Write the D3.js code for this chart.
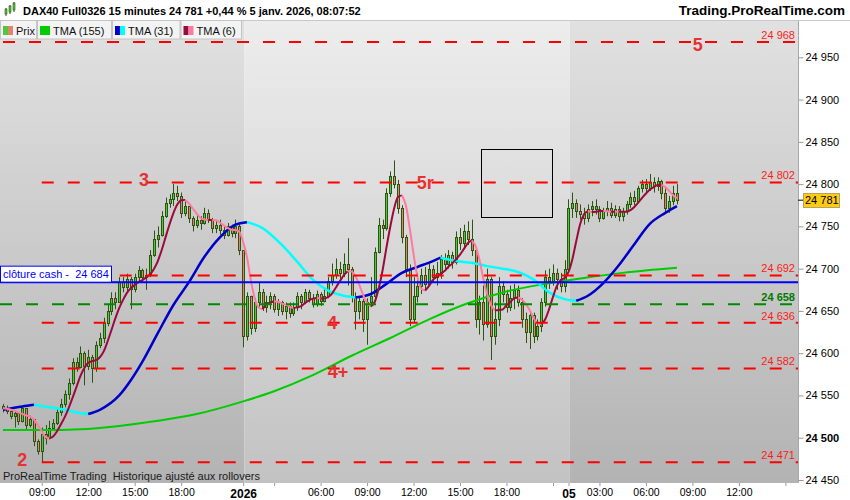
<!DOCTYPE html>
<html>
<head>
<meta charset="utf-8">
<script src="https://cdn.jsdelivr.net/npm/d3@7"></script>
<style>
  body { margin: 0; background: #fff; }
  svg { display: block; font-family: "Liberation Sans", Arial, sans-serif; }
</style>
</head>
<body>
<svg width="850" height="500"></svg>
<script>
// ---- data (15 min bars) ----
const firstOpen = 24538
// 30 dec, 06:30 -> 21:45
const dec30Close = [24535,24532,24526,24529,24520,24535,24515,24522,24496,24484,
  24505,24500,24512,24518,24530,24540,24552,24565,24590,24584,
  24600,24585,24596,24582,24610,24618,24636,24650,24665,24660,
  24684,24678,24688,24676,24690,24698,24690,24692,24716,24735,
  24740,24762,24778,24782,24790,24786,24766,24774,24760,24752,
  24758,24754,24766,24758,24748,24752,24746,24740,24750,24742,
  24750,24722]
const dec30High = [24540,24538,24536,24532,24528,24537,24532,24526,24520,24498,
  24512,24515,24520,24522,24535,24546,24556,24570,24594,24595,
  24608,24602,24604,24598,24614,24624,24642,24658,24672,24672,
  24690,24690,24694,24690,24694,24703,24700,24700,24722,24745,
  24750,24768,24784,24788,24800,24798,24790,24780,24774,24762,
  24764,24762,24772,24770,24760,24756,24758,24750,24754,24752,
  24758,24752]
const dec30Low = [24530,24528,24522,24512,24515,24518,24508,24512,24490,24480,
  24471,24492,24498,24508,24515,24526,24536,24545,24562,24578,
  24582,24562,24580,24565,24578,24606,24612,24632,24645,24652,
  24660,24672,24672,24652,24672,24684,24684,24675,24690,24714,
  24725,24738,24760,24772,24774,24780,24760,24762,24754,24744,
  24748,24746,24752,24754,24742,24742,24740,24735,24738,24737,
  24736,24716]
// 2 janv, 01:00 -> 21:45
const jan2Close = [24620,24668,24630,24660,24672,24655,24660,24668,24652,24660,
  24650,24656,24648,24655,24668,24660,24672,24665,24658,24670,
  24662,24668,24685,24692,24700,24695,24705,24700,24668,24650,
  24662,24640,24660,24668,24720,24752,24748,24790,24810,24800,
  24772,24738,24700,24640,24668,24680,24692,24682,24700,24690,
  24695,24712,24705,24716,24708,24738,24730,24745,24735,24722,
  24640,24660,24635,24688,24620,24640,24680,24670,24655,24665,
  24675,24660,24640,24625,24645,24620,24632,24660,24690,24685,
  24695,24688,24680,24700]
const jan2High = [24712,24672,24668,24665,24684,24676,24668,24672,24670,24664,
  24662,24660,24660,24660,24672,24670,24676,24675,24670,24674,
  24672,24678,24690,24706,24712,24708,24718,24736,24702,24672,
  24666,24664,24665,24690,24725,24760,24758,24795,24815,24828,
  24805,24775,24740,24705,24690,24695,24700,24702,24706,24704,
  24708,24716,24718,24722,24720,24744,24748,24752,24756,24758,
  24725,24668,24680,24700,24690,24660,24690,24685,24675,24680,
  24682,24680,24665,24648,24650,24648,24640,24665,24698,24700,
  24705,24700,24695,24710]
const jan2Low = [24607,24615,24622,24625,24655,24650,24648,24652,24648,24644,
  24645,24640,24642,24644,24650,24652,24658,24660,24654,24655,
  24656,24660,24665,24680,24688,24688,24690,24680,24660,24628,
  24640,24625,24610,24655,24665,24718,24735,24745,24785,24795,
  24765,24730,24690,24632,24636,24660,24670,24675,24680,24684,
  24680,24688,24698,24700,24700,24705,24722,24725,24728,24715,
  24630,24622,24615,24630,24592,24610,24632,24660,24648,24650,
  24652,24655,24630,24612,24605,24612,24615,24625,24655,24676,
  24680,24675,24672,24672]
// 5 janv, 01:00 -> 08:00
const jan5Close = [24772,24778,24768,24765,24760,24770,24774,24770,24760,24768,
  24772,24764,24770,24762,24768,24776,24785,24780,24795,24800,
  24795,24802,24798,24804,24790,24772,24780,24790,24781]
const jan5High = [24782,24790,24782,24776,24772,24776,24780,24782,24774,24772,
  24780,24778,24775,24774,24772,24780,24790,24792,24798,24805,
  24806,24812,24808,24808,24805,24795,24786,24798,24800]
const jan5Low = [24725,24760,24760,24758,24752,24755,24762,24764,24755,24758,
  24762,24760,24760,24756,24756,24764,24772,24775,24778,24790,
  24788,24792,24790,24792,24782,24765,24766,24775,24776]

// TMA (31) and TMA (155) read at sample bars
const tma31Idx = [0,5,8,12,16,20,22,25,30,33,36,40,44,48,52,56,60,63,67,72,76,80,84,88,91,95,99,103,107,111,113,117,121,125,129,133,137,141,145,148,151,155,159,163,167,171,174]
const tma31Val = [24533,24537,24539,24536,24533,24529,24528,24533,24550,24568,24590,24624,24657,24684,24714,24737,24752,24755,24748,24728,24708,24687,24674,24668,24666,24670,24682,24695,24702,24709,24713,24709,24707,24703,24700,24696,24687,24672,24664,24662,24668,24683,24704,24729,24753,24766,24774]
const tma155Idx = [0,10,20,30,40,50,62,70,80,90,100,110,120,130,140,150,160,174]
const tma155Val = [24509,24509,24510,24514,24520,24528,24543,24555,24574,24597,24618,24640,24659,24673,24682,24689,24695,24701]

const redLevels = [24968, 24802, 24692, 24636, 24582, 24471]
const redLevelStart = [0, 10, 10, 10, 10, 10]
const greenLevel = 24658
const cashLevel = 24684
const lastPrice = 24781

const waveText = ["5", "3", "5r", "4", "4+", "2"]
const waveIdx = [179.4, 36.4, 109, 85, 86.5, 5]
const waveVal = [24958, 24798, 24794, 24629, 24571, 24467]

const boxIdx = [123.3, 141.6]
const boxVal = [24842, 24762]

const sessionStart = [0, 62, 146]
const yTicks = [24450, 24500, 24550, 24600, 24650, 24700, 24750, 24800, 24850, 24900, 24950]
const xTickIdx = [10, 22, 34, 46, 62, 70, 82, 94, 106, 118, 130, 142, 146, 154, 166, 178, 190, 202]
const xTickLabels = ["09:00","12:00","15:00","18:00","2026","","06:00","09:00","12:00","15:00","18:00","","05","03:00","06:00","09:00","12:00",""]

const legendNames = ["Prix", "TMA (155)", "TMA (31)", "TMA (6)"]
const legendColors = [["#4fc93c","#e8806e"], ["#00cc00","#00cc00"], ["#0000c8","#00ffff"], ["#9b0a3c","#ff7aa0"]]

// ---- chart ----
const svg = d3.select("svg")
const plotR = 798, plotT = 20, plotB = 483

const x = d3.scaleLinear().domain([0, 205]).range([3, 797])
const y = d3.scaleLinear().domain([24450, 24950]).range([480, 57.3])
const fmt = d3.formatLocale({decimal: ",", thousands: " ", grouping: [3], currency: ["", ""]}).format(",d")

const closes = dec30Close.concat(jan2Close, jan5Close)
const highs = dec30High.concat(jan2High, jan5High)
const lows = dec30Low.concat(jan2Low, jan5Low)
const bars = closes.map((c, i) => {
  const o = i === 0 ? firstOpen : closes[i - 1]
  return {i, o, c, h: Math.max(highs[i], o, c), l: Math.min(lows[i], o, c)}
})

// background bands
const defs = svg.append("defs")
function grad(id, top, bottom) {
  const g = defs.append("linearGradient").attr("id", id)
    .attr("gradientUnits", "userSpaceOnUse").attr("x1", 0).attr("x2", 0).attr("y1", plotT).attr("y2", plotB)
  g.append("stop").attr("offset", "0%").attr("stop-color", top)
  g.append("stop").attr("offset", "100%").attr("stop-color", bottom)
}
grad("bgDark", "#e1e1e1", "#b3b3b3")
grad("bgLight", "#ededed", "#c2c2c2")

const edges = [0, x(sessionStart[1]) + 1.4, x(sessionStart[2]) + 1.4, plotR]
for (let s = 0; s < 3; s++) {
  svg.append("rect").attr("x", edges[s]).attr("y", plotT).attr("width", edges[s + 1] - edges[s])
    .attr("height", plotB - plotT).attr("fill", s === 1 ? "url(#bgLight)" : "url(#bgDark)")
}

// candles
const up = "#4fc93c", down = "#e8806e", edge = "#2d5512"
const cg = svg.append("g")
cg.selectAll("line").data(bars).join("line")
  .attr("x1", d => Math.round(x(d.i)) + 0.5).attr("x2", d => Math.round(x(d.i)) + 0.5)
  .attr("y1", d => y(d.h)).attr("y2", d => y(d.l))
  .attr("stroke", edge).attr("stroke-width", 1)
cg.selectAll("rect").data(bars).join("rect")
  .attr("x", d => Math.round(x(d.i)) - 0.5)
  .attr("y", d => Math.round(y(Math.max(d.o, d.c))) + 0.5)
  .attr("width", 2)
  .attr("height", d => Math.max(1, Math.round(y(Math.min(d.o, d.c))) - Math.round(y(Math.max(d.o, d.c)))))
  .attr("fill", d => d.c >= d.o ? up : down)
  .attr("stroke", edge).attr("stroke-width", 1)

// moving averages
function sma(a, n) {
  return a.map((v, i) => d3.mean(a.slice(Math.max(0, i - n + 1), i + 1)))
}
function tma(a, n) { return sma(sma(a, Math.ceil(n / 2)), Math.floor(n / 2) + 1) }

function runs(pts) {
  const out = []
  let cur = [pts[0]], dir = 0
  for (let j = 1; j < pts.length; j++) {
    const d = pts[j].v >= pts[j - 1].v ? 1 : -1
    if (dir === 0 || d === dir) { cur.push(pts[j]); dir = d }
    else { out.push({dir, pts: cur}); cur = [pts[j - 1], pts[j]]; dir = d }
  }
  out.push({dir, pts: cur})
  return out
}
const lineGen = d3.line().x(d => x(d.i)).y(d => y(d.v)).curve(d3.curveMonotoneX)
function drawMA(pts, upColor, downColor, w) {
  const g = svg.append("g")
  runs(pts).forEach(r => {
    g.append("path").attr("d", lineGen(r.pts)).attr("fill", "none")
      .attr("stroke", r.dir > 0 ? upColor : downColor).attr("stroke-width", w)
  })
}
drawMA(tma155Idx.map((i, j) => ({i, v: tma155Val[j]})), "#00cc00", "#00cc00", 2)
drawMA(tma31Idx.map((i, j) => ({i, v: tma31Val[j]})), "#0000c8", "#00ffff", 2.5)
const tma6 = tma(closes, 6)
drawMA(tma6.map((v, i) => ({i, v})), "#9b0a3c", "#ff7aa0", 2)

// horizontal levels
const lv = svg.append("g")
redLevels.forEach((v, j) => {
  lv.append("line").attr("x1", x(redLevelStart[j])).attr("x2", plotR).attr("y1", y(v)).attr("y2", y(v))
    .attr("stroke", "#ff0000").attr("stroke-width", 2).attr("stroke-dasharray", "12,14")
  lv.append("text").attr("x", 795).attr("y", y(v) - 3).attr("text-anchor", "end")
    .attr("font-size", 11).attr("fill", "#ff1a1a").text(fmt(v))
})
lv.append("line").attr("x1", 0).attr("x2", plotR).attr("y1", y(greenLevel)).attr("y2", y(greenLevel))
  .attr("stroke", "#008a00").attr("stroke-width", 2).attr("stroke-dasharray", "12,14")
lv.append("text").attr("x", 795).attr("y", y(greenLevel) - 3).attr("text-anchor", "end")
  .attr("font-size", 11).attr("font-weight", "bold").attr("fill", "#007a00").text(fmt(greenLevel))
lv.append("line").attr("x1", 0).attr("x2", plotR).attr("y1", y(cashLevel)).attr("y2", y(cashLevel))
  .attr("stroke", "#0000ff").attr("stroke-width", 2)
lv.append("rect").attr("x", 0.5).attr("y", y(cashLevel) - 16).attr("width", 111).attr("height", 16)
  .attr("fill", "#fff").attr("stroke", "#0000ff").attr("stroke-width", 1)
lv.append("text").attr("x", 3).attr("y", y(cashLevel) - 4).attr("font-size", 11).attr("fill", "#0000ff")
  .attr("xml:space", "preserve").text("clôture cash -  " + fmt(cashLevel))

// box and wave labels
svg.append("rect").attr("x", Math.round(x(boxIdx[0])) + 0.5).attr("y", Math.round(y(boxVal[0])) + 0.5)
  .attr("width", Math.round(x(boxIdx[1]) - x(boxIdx[0]))).attr("height", Math.round(y(boxVal[1]) - y(boxVal[0])))
  .attr("fill", "none").attr("stroke", "#000").attr("stroke-width", 1)
svg.append("g").selectAll("text").data(waveText).join("text")
  .attr("x", (d, j) => x(waveIdx[j])).attr("y", (d, j) => y(waveVal[j]))
  .attr("text-anchor", "middle").attr("font-size", 18).attr("font-weight", "bold")
  .attr("fill", "#e63232").text(d => d)

svg.append("text").attr("x", 3).attr("y", 480).attr("font-size", 11).attr("fill", "#1a1a1a")
  .attr("xml:space", "preserve").text("ProRealTime Trading  Historique ajusté aux rollovers")

// axes areas
svg.append("rect").attr("x", plotR).attr("y", plotT).attr("width", 850 - plotR).attr("height", 480).attr("fill", "#fff")
svg.append("rect").attr("x", 0).attr("y", plotB).attr("width", 850).attr("height", 500 - plotB).attr("fill", "#fff")
svg.append("line").attr("x1", plotR + 0.5).attr("x2", plotR + 0.5).attr("y1", plotT).attr("y2", plotB)
  .attr("stroke", "#a8a8a8")

const yAxis = svg.append("g").attr("transform", `translate(${plotR + 0.5},0)`)
  .call(d3.axisRight(y).tickValues(yTicks).tickSize(5).tickPadding(2).tickFormat(fmt))
yAxis.select(".domain").remove()
yAxis.selectAll("line").attr("stroke", "#999")
yAxis.selectAll("text").attr("font-size", 11).attr("font-family", "Liberation Sans, Arial, sans-serif")
  .attr("fill", "#000").attr("font-weight", d => d === 24500 ? "bold" : "normal")

const xAxis = svg.append("g").attr("transform", `translate(0,${plotB})`)
  .call(d3.axisBottom(x).tickValues(xTickIdx).tickSize(3).tickPadding(3).tickFormat((d, j) => xTickLabels[j]))
xAxis.select(".domain").remove()
xAxis.selectAll("line").attr("stroke", "#999")
xAxis.selectAll("text").attr("font-family", "Liberation Sans, Arial, sans-serif").attr("fill", "#000")
  .attr("font-weight", (d, j) => (xTickLabels[j] === "2026" || xTickLabels[j] === "05") ? "bold" : "normal")
  .attr("font-size", (d, j) => (xTickLabels[j] === "2026" || xTickLabels[j] === "05") ? 12 : 10.5)

// last price tag
svg.append("line").attr("x1", plotR).attr("x2", plotR + 5).attr("y1", y(lastPrice)).attr("y2", y(lastPrice))
  .attr("stroke", "#000")
svg.append("rect").attr("x", 803.5).attr("y", Math.round(y(lastPrice)) - 6.5).attr("width", 36).attr("height", 14)
  .attr("fill", "#fccc12").attr("stroke", "#b8a060")
svg.append("text").attr("x", 805).attr("y", y(lastPrice) + 4).attr("font-size", 11).attr("fill", "#000").text(fmt(lastPrice))

// header
svg.append("rect").attr("x", 0).attr("y", 0).attr("width", 850).attr("height", plotT).attr("fill", "#fff")
svg.append("line").attr("x1", 0).attr("x2", 850).attr("y1", plotT + 0.5).attr("y2", plotT + 0.5).attr("stroke", "#c8c8c8")
const icon = svg.append("g")
;[[5, 9, 14], [9, 6, 12], [13, 3, 10]].forEach(c => {
  icon.append("line").attr("x1", c[0] + 1).attr("x2", c[0] + 1).attr("y1", c[1] - 1).attr("y2", c[2] + 2).attr("stroke", "#2d5512")
  icon.append("rect").attr("x", c[0]).attr("y", c[1]).attr("width", 2).attr("height", c[2] - c[1]).attr("fill", "#4fc93c").attr("stroke", "#2d5512").attr("stroke-width", 0.6)
})
svg.append("text").attr("x", 23).attr("y", 14.5).attr("font-size", 11).attr("font-weight", "bold")
  .text("DAX40 Full0326 15 minutes 24 781 +0,44 % 5 janv. 2026, 08:07:52")
svg.append("text").attr("x", 845).attr("y", 15).attr("text-anchor", "end").attr("font-size", 13.5)
  .attr("font-weight", "bold").text("Trading.ProRealTime.com")

// legend
const legX = [0, 37, 112, 180.5, 242]
const lg = svg.append("g")
legendNames.forEach((name, j) => {
  lg.append("rect").attr("x", legX[j] + 0.5).attr("y", plotT + 0.5).attr("width", legX[j + 1] - legX[j] - 1).attr("height", 18.5)
    .attr("fill", "#f3f3f3").attr("stroke", "#c4c4c4")
  lg.append("rect").attr("x", legX[j] + 3).attr("y", 26).attr("width", 5).attr("height", 9).attr("fill", legendColors[j][0])
  lg.append("rect").attr("x", legX[j] + 8).attr("y", 26).attr("width", 5).attr("height", 9).attr("fill", legendColors[j][1])
  lg.append("text").attr("x", legX[j] + 16).attr("y", 34.5).attr("font-size", 11).attr("fill", "#111").text(name)
})
</script>
</body>
</html>
